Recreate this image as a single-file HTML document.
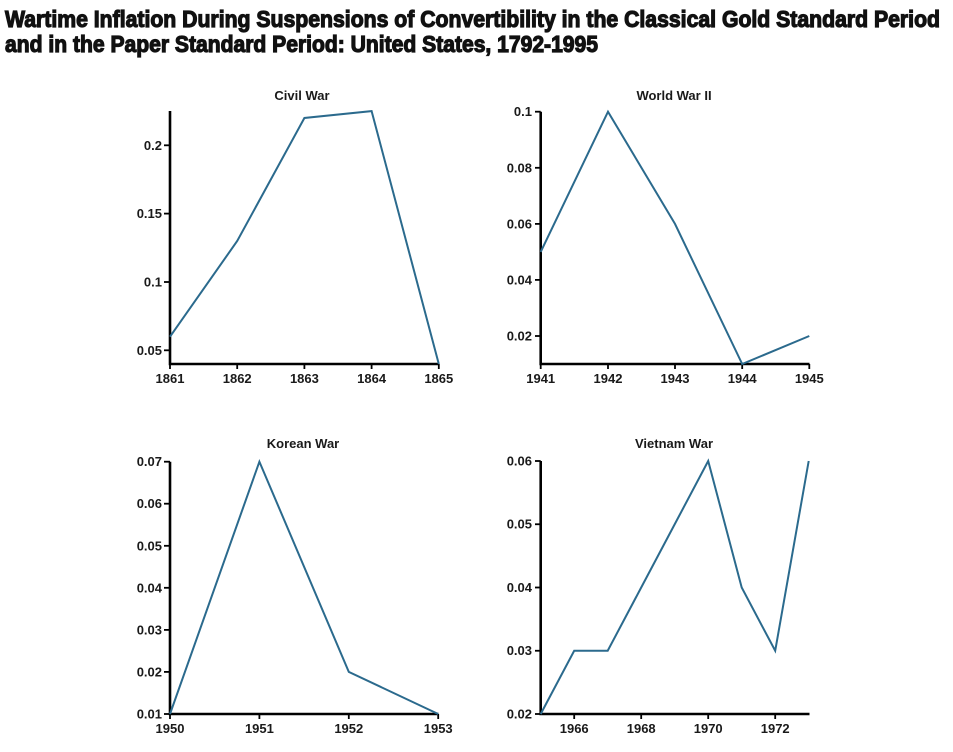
<!DOCTYPE html>
<html><head><meta charset="utf-8"><style>
html,body{margin:0;padding:0;background:#fff;}
svg{display:block;}
text{font-family:"Liberation Sans",Arial,sans-serif;fill:#1a1a1a;}
.t{font-size:23px;font-weight:bold;stroke:#111;stroke-width:1.2px;fill:#111;}
.st{font-size:13px;font-weight:bold;text-anchor:middle;}
.yl{font-size:13px;font-weight:bold;text-anchor:end;}
.xl{font-size:13px;font-weight:bold;text-anchor:middle;}
.ax{stroke:#000;stroke-width:2.6;fill:none;}
.tk{stroke:#000;stroke-width:1.8;}
.ln{stroke:#2b6a8d;stroke-width:2;fill:none;stroke-linejoin:miter;}
</style></head><body>
<svg width="953" height="752" viewBox="0 0 953 752" xmlns="http://www.w3.org/2000/svg">
<text class="t" x="5" y="27" textLength="935" lengthAdjust="spacingAndGlyphs">Wartime Inflation During Suspensions of Convertibility in the Classical Gold Standard Period</text>
<text class="t" x="5" y="52" textLength="593" lengthAdjust="spacingAndGlyphs">and in the Paper Standard Period: United States, 1792-1995</text>

<!-- Civil War -->
<text class="st" x="302" y="100">Civil War</text>
<path class="ax" d="M170,111 L170,364 L439,364"/>
<g class="tk">
<line x1="164" y1="350.3" x2="170" y2="350.3"/><line x1="164" y1="282" x2="170" y2="282"/><line x1="164" y1="213.6" x2="170" y2="213.6"/><line x1="164" y1="145.3" x2="170" y2="145.3"/>
<line x1="170" y1="364" x2="170" y2="369"/><line x1="237.2" y1="364" x2="237.2" y2="369"/><line x1="304.4" y1="364" x2="304.4" y2="369"/><line x1="371.6" y1="364" x2="371.6" y2="369"/><line x1="438.8" y1="364" x2="438.8" y2="369"/>
</g>
<text class="yl" x="162" y="355">0.05</text><text class="yl" x="162" y="286.5">0.1</text><text class="yl" x="162" y="218">0.15</text><text class="yl" x="162" y="150">0.2</text>
<text class="xl" x="170" y="383">1861</text><text class="xl" x="237.2" y="383">1862</text><text class="xl" x="304.4" y="383">1863</text><text class="xl" x="371.6" y="383">1864</text><text class="xl" x="438.8" y="383">1865</text>
<polyline class="ln" points="170,336.7 237.2,241 304.4,118 371.6,111.1 438.8,364"/>

<!-- World War II -->
<text class="st" x="674" y="100">World War II</text>
<path class="ax" d="M540.7,111.7 L540.7,364 L809.5,364"/>
<g class="tk">
<line x1="535" y1="336" x2="540.7" y2="336"/><line x1="535" y1="279.9" x2="540.7" y2="279.9"/><line x1="535" y1="223.9" x2="540.7" y2="223.9"/><line x1="535" y1="167.8" x2="540.7" y2="167.8"/><line x1="535" y1="111.7" x2="540.7" y2="111.7"/>
<line x1="540.7" y1="364" x2="540.7" y2="369"/><line x1="608" y1="364" x2="608" y2="369"/><line x1="675" y1="364" x2="675" y2="369"/><line x1="742.2" y1="364" x2="742.2" y2="369"/><line x1="809.3" y1="364" x2="809.3" y2="369"/>
</g>
<text class="yl" x="532" y="340.5">0.02</text><text class="yl" x="532" y="284.4">0.04</text><text class="yl" x="532" y="228.4">0.06</text><text class="yl" x="532" y="172.3">0.08</text><text class="yl" x="532" y="116.2">0.1</text>
<text class="xl" x="540.7" y="383">1941</text><text class="xl" x="608" y="383">1942</text><text class="xl" x="675" y="383">1943</text><text class="xl" x="742.2" y="383">1944</text><text class="xl" x="809.3" y="383">1945</text>
<polyline class="ln" points="540.7,251.9 608,111.7 675,223.9 742.2,364 809.3,336"/>

<!-- Korean War -->
<text class="st" x="303" y="448">Korean War</text>
<path class="ax" d="M170,461.7 L170,714 L438.5,714"/>
<g class="tk">
<line x1="164" y1="714" x2="170" y2="714"/><line x1="164" y1="671.9" x2="170" y2="671.9"/><line x1="164" y1="629.9" x2="170" y2="629.9"/><line x1="164" y1="587.8" x2="170" y2="587.8"/><line x1="164" y1="545.8" x2="170" y2="545.8"/><line x1="164" y1="503.7" x2="170" y2="503.7"/><line x1="164" y1="461.7" x2="170" y2="461.7"/>
<line x1="170" y1="714" x2="170" y2="719"/><line x1="259.4" y1="714" x2="259.4" y2="719"/><line x1="348.8" y1="714" x2="348.8" y2="719"/><line x1="438.2" y1="714" x2="438.2" y2="719"/>
</g>
<text class="yl" x="162" y="718.5">0.01</text><text class="yl" x="162" y="676.4">0.02</text><text class="yl" x="162" y="634.4">0.03</text><text class="yl" x="162" y="592.3">0.04</text><text class="yl" x="162" y="550.3">0.05</text><text class="yl" x="162" y="508.2">0.06</text><text class="yl" x="162" y="466.2">0.07</text>
<text class="xl" x="170" y="733">1950</text><text class="xl" x="259.4" y="733">1951</text><text class="xl" x="348.8" y="733">1952</text><text class="xl" x="438.2" y="733">1953</text>
<polyline class="ln" points="170,714 259.4,461.7 348.8,671.9 438.2,714"/>

<!-- Vietnam War -->
<text class="st" x="674" y="448">Vietnam War</text>
<path class="ax" d="M540.7,461 L540.7,714 L809.5,714"/>
<g class="tk">
<line x1="535" y1="714" x2="540.7" y2="714"/><line x1="535" y1="650.75" x2="540.7" y2="650.75"/><line x1="535" y1="587.5" x2="540.7" y2="587.5"/><line x1="535" y1="524.25" x2="540.7" y2="524.25"/><line x1="535" y1="461" x2="540.7" y2="461"/>
<line x1="574.2" y1="714" x2="574.2" y2="719"/><line x1="641.2" y1="714" x2="641.2" y2="719"/><line x1="708.2" y1="714" x2="708.2" y2="719"/><line x1="775.2" y1="714" x2="775.2" y2="719"/>
</g>
<text class="yl" x="532" y="718.5">0.02</text><text class="yl" x="532" y="655.2">0.03</text><text class="yl" x="532" y="592">0.04</text><text class="yl" x="532" y="528.7">0.05</text><text class="yl" x="532" y="465.5">0.06</text>
<text class="xl" x="574.2" y="733">1966</text><text class="xl" x="641.2" y="733">1968</text><text class="xl" x="708.2" y="733">1970</text><text class="xl" x="775.2" y="733">1972</text>
<polyline class="ln" points="540.7,714 574.2,650.75 607.7,650.75 641.2,587.5 674.7,524.25 708.2,461 741.7,587.5 775.2,650.75 808.7,461"/>
</svg>
</body></html>
